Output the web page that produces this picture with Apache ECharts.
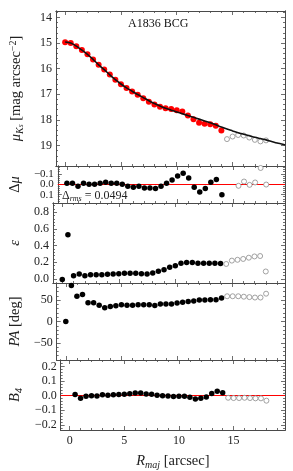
<!DOCTYPE html>
<html><head><meta charset="utf-8">
<script src="https://cdn.jsdelivr.net/npm/echarts@6/dist/echarts.min.js"></script>
<style>html,body{margin:0;padding:0;background:#fff}#c{width:293px;height:471px}</style>
</head><body><div id="c"></div>
<script>
// ---------------- data ----------------
const rFit = [0,0.5,1,1.5,2,2.5,3,3.5,4,4.5,5,5.5,6,6.5,7,7.5,8,8.5,9,9.5,10,10.5,11,11.5,12,12.5,13,13.5,14];
const rOut = [14.5,15,15.5,16,16.5,17,17.5,18];
const muFit = [14.97,15.0,15.13,15.27,15.44,15.64,15.85,16.03,16.23,16.43,16.61,16.76,16.89,17.02,17.16,17.29,17.40,17.49,17.55,17.58,17.62,17.67,17.83,17.98,18.11,18.15,18.17,18.23,18.41];
const muOut = [18.75,18.65,18.59,18.61,18.69,18.78,18.84,18.80];
const rModel = [0,0.5,1,1.5,2,2.5,3,3.5,4,4.5,5,5.5,6,6.5,7,7.5,8,8.5,9,9.5,10,10.5,11,11.5,12,12.5,13,13.5,14,14.5,15,15.5,16,16.5,17,17.5,18,18.5,19,19.5,19.7];
const muModel = [14.96,15.0,15.12,15.28,15.44,15.64,15.85,16.04,16.24,16.43,16.60,16.75,16.88,17.01,17.13,17.25,17.36,17.46,17.55,17.62,17.69,17.76,17.83,17.90,17.97,18.04,18.11,18.19,18.28,18.36,18.43,18.50,18.56,18.62,18.68,18.73,18.78,18.84,18.90,18.95,18.98];
const dmuFit = [-0.01,-0.01,0.02,-0.01,0.0,0.0,-0.01,-0.02,-0.01,-0.01,0.0,0.02,0.03,0.02,0.035,0.035,0.04,0.02,-0.01,-0.04,-0.08,-0.105,-0.06,0.03,0.075,0.04,-0.02,-0.045,0.10];
const dmuOut = [null,null,0.015,-0.026,0.006,-0.017,-0.156,0.003];
const epsFit = [-0.005,0.53,0.04,0.06,0.04,0.05,0.05,0.05,0.056,0.06,0.064,0.068,0.068,0.068,0.064,0.06,0.072,0.092,0.11,0.14,0.16,0.19,0.197,0.197,0.19,0.19,0.19,0.19,0.185];
const epsOut = [0.18,0.22,0.23,0.24,0.255,0.27,0.275,0.09];
const paFit = [0,84,59,63,44,44,38,32,35,37,39,38,38,39,39,39,37.5,41,41,41,43,45,47,48,50,50,51,51,55];
const paOut = [59,59,59,58,57,56,56,65];
const b4Fit = [null,0.008,-0.018,-0.004,0,-0.002,0.006,0.004,0.006,0.008,0.01,0.014,0.018,0.018,0.012,0.01,0.004,0,-0.002,-0.006,-0.004,-0.004,-0.01,-0.022,-0.018,-0.008,0.016,0.03,0.02];
const b4Out = [-0.014,-0.016,-0.016,-0.014,-0.016,-0.018,-0.018,-0.034];

const xTicks = [0,5,10,15];
const muTicks = [14,15,16,17,18,19];
const dmuTicks = [-0.1,0,0.1];
const epsTicks = [0,0.2,0.4,0.6,0.8];
const paTicks = [-50,0,50];
const b4Ticks = [-0.2,-0.1,0,0.1,0.2];
const rmsText = '0.0494';
const titleText = 'A1836 BCG';

// ---------------- layout ----------------
const FONT = 'Liberation Serif';
const XMIN = -0.82, XMAX = 19.7;
const LEFT = 52, RIGHT = 8;
const AX = '#4a4a4a';
function minors(a, b, step, majors) {
  const out = [];
  for (let v = a; v <= b + 1e-9; v += step) {
    const r = Math.round(v * 1000) / 1000;
    if (!majors.some(m => Math.abs(m - r) < 1e-6)) out.push(r);
  }
  return out;
}
const fmt1 = v => (v < 0 ? '\u2212' : '') + Math.abs(v).toFixed(1);
const fmt0 = v => (v < 0 ? '\u2212' : '') + Math.abs(v).toFixed(0);

const panels = [
  {top: 11, h: 155, min: 13.75, max: 19.8, inv: true, major: muTicks, minor: minors(13.8, 19.8, 0.2, muTicks), fmt: fmt0,
   labA: muTicks, labB: null, name: '{i|μ}{s|K}{ss|s}{n| [mag arcsec}{sup|−2}{n|]}', gap: 31, fs: 12},
  {top: 166, h: 37, min: -0.175, max: 0.18, inv: true, major: dmuTicks, minor: minors(-0.16, 0.16, 0.02, dmuTicks), fmt: fmt1,
   labA: [dmuTicks[0], dmuTicks[2]], labB: [dmuTicks[1]], name: '{n|Δ}{i|μ}', gap: 32, fs: 11},
  {top: 203, h: 80, min: -0.048, max: 0.91, inv: false, major: epsTicks, minor: minors(0, 0.88, 0.04, epsTicks), fmt: fmt1,
   labA: epsTicks, labB: null, name: '{i|ε}', gap: 29, fs: 12},
  {top: 283, h: 77, min: -90, max: 90, inv: false, major: paTicks, minor: minors(-80, 80, 10, paTicks), fmt: fmt0,
   labA: paTicks, labB: null, name: '{i|PA}{n| [deg]}', gap: 31, fs: 12},
  {top: 360, h: 76, min: -0.235, max: 0.245, inv: false, major: b4Ticks, minor: minors(-0.22, 0.24, 0.02, b4Ticks), fmt: fmt1,
   labA: b4Ticks, labB: null, name: '{i|B}{s|4}', gap: 30, fs: 12}
];
const xMinor = minors(0, 19, 1, xTicks);

const richName = {
  i: {fontFamily: FONT, fontStyle: 'italic', fontSize: 14.5, color: '#222', lineHeight: 17},
  n: {fontFamily: FONT, fontSize: 14.5, color: '#222', lineHeight: 17},
  s: {fontFamily: FONT, fontStyle: 'italic', fontSize: 10, color: '#222', verticalAlign: 'bottom', lineHeight: 11},
  ss: {fontFamily: FONT, fontStyle: 'italic', fontSize: 7.5, color: '#222', verticalAlign: 'bottom', lineHeight: 6},
  sup: {fontFamily: FONT, fontSize: 10, color: '#222', verticalAlign: 'top', lineHeight: 10}
};

const grid = [], xAxis = [], yAxis = [];
panels.forEach((p, i) => {
  grid.push({left: LEFT, right: RIGHT, top: p.top, height: p.h, show: false});
  const last = i === panels.length - 1;
  const mkX = (pos, vals, len, label) => ({
    type: 'value', gridIndex: i, position: pos, min: XMIN, max: XMAX,
    axisLine: {show: true, onZero: false, lineStyle: {color: AX, width: 1}},
    axisTick: {show: true, inside: true, length: len, customValues: vals, lineStyle: {color: AX, width: 0.8}},
    axisLabel: {show: label, customValues: xTicks, fontFamily: FONT, fontSize: 12, color: '#222', margin: 5},
    splitLine: {show: false},
    name: label ? '{i|R}{s|maj}{n| [arcsec]}' : '', nameLocation: 'middle', nameGap: 23,
    nameTextStyle: {rich: richName}
  });
  xAxis.push(mkX('bottom', xTicks, 4, last), mkX('bottom', xMinor, 2, false), mkX('top', xTicks, 4, false), mkX('top', xMinor, 2, false));
  const mkY = (pos, vals, len, labs, named) => ({
    type: 'value', gridIndex: i, position: pos, min: p.min, max: p.max, inverse: p.inv,
    axisLine: {show: true, onZero: false, lineStyle: {color: AX, width: 1}},
    axisTick: {show: true, inside: true, length: len, customValues: vals, lineStyle: {color: AX, width: 0.8}},
    axisLabel: {show: !!labs, customValues: labs || undefined, formatter: p.fmt, fontFamily: FONT, fontSize: p.fs,
      color: '#222', margin: 4, hideOverlap: false},
    splitLine: {show: false},
    name: named ? p.name : '', nameLocation: 'middle', nameRotate: 90, nameGap: p.gap,
    nameTextStyle: {rich: richName}
  });
  yAxis.push(mkY('left', p.major, 4, p.labA, true), mkY('left', p.minor, 2, p.labB, false),
             mkY('right', p.major, 4, null, false), mkY('right', p.minor, 2, null, false));
});

const pairs = (xs, ys) => xs.map((x, k) => [x, ys[k]]).filter(d => d[1] !== null);
const filled = (i, xs, ys, extra) => Object.assign({
  type: 'scatter', xAxisIndex: 4 * i, yAxisIndex: 4 * i, data: pairs(xs, ys),
  symbol: 'circle', symbolSize: 5.5, itemStyle: {color: '#000', opacity: 1}, z: 5, silent: true
}, extra || {});
const open = (i, xs, ys) => ({
  type: 'scatter', xAxisIndex: 4 * i, yAxisIndex: 4 * i, data: pairs(xs, ys),
  symbol: 'circle', symbolSize: 5, itemStyle: {color: '#fff', borderColor: '#8a8a8a', borderWidth: 0.8, opacity: 1}, z: 5, silent: true
});
const zeroLine = {silent: true, symbol: 'none', label: {show: false}, data: [{yAxis: 0}],
  lineStyle: {color: '#ff0000', width: 1.2, type: 'solid'}, animation: false};

const series = [
  {type: 'line', xAxisIndex: 0, yAxisIndex: 0, data: pairs(rModel, muModel), showSymbol: false, smooth: 0.3,
   lineStyle: {color: '#111', width: 1.6}, z: 6, silent: true},
  filled(0, rFit, muFit, {itemStyle: {color: '#ff0000', opacity: 1}, symbolSize: 6, z: 4}),
  open(0, rOut, muOut),
  filled(1, rFit, dmuFit, {markLine: zeroLine}),
  open(1, rOut, dmuOut),
  filled(2, rFit, epsFit),
  open(2, rOut, epsOut),
  filled(3, rFit, paFit),
  open(3, rOut, paOut),
  filled(4, rFit, b4Fit, {markLine: zeroLine}),
  open(4, rOut, b4Out)
];

const chart = echarts.init(document.getElementById('c'), null, {renderer: 'canvas'});
chart.setOption({
  animation: false,
  backgroundColor: '#fff',
  grid, xAxis, yAxis, series,
  graphic: [
    {type: 'text', left: 128, top: 18, style: {text: titleText, fontFamily: FONT, fontSize: 12, fill: '#111'}},
    {type: 'text', left: 62, top: 190, style: {
      text: '{n|Δ}{s|rms}{n| = ' + rmsText + '}',
      rich: {n: {fontFamily: FONT, fontSize: 12, fill: '#222', lineHeight: 13},
             s: {fontFamily: FONT, fontStyle: 'italic', fontSize: 8, fill: '#222', verticalAlign: 'bottom', lineHeight: 9}}
    }}
  ]
});
</script>
</body></html>
